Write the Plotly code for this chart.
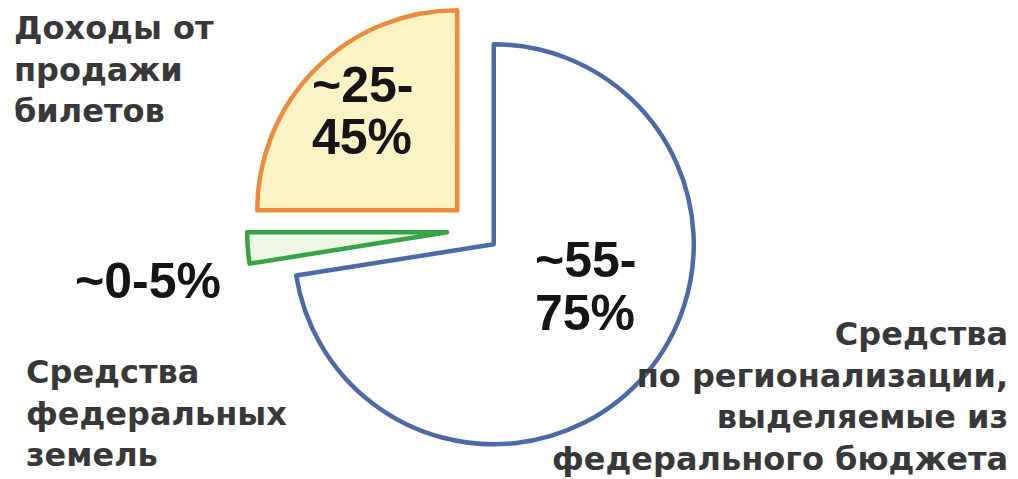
import plotly.graph_objects as go

# ---- data ----
categories = [
    "Средства по регионализации, выделяемые из федерального бюджета",
    "Средства федеральных земель",
    "Доходы от продажи билетов",
]
shares = [72.5, 2.5, 25.0]  # approximate slice sizes, %
share_labels = ["~55-<br>75%", "~0-5%", "~25-<br>45%"]
category_lines = [
    ["Средства", "по регионализации,", "выделяемые из", "федерального бюджета"],
    ["Средства", "федеральных", "земель"],
    ["Доходы от", "продажи", "билетов"],
]

# ---- style ----
W, H = 1018, 479
line_colors = ["#4d69a9", "#35a447", "#ee8a3c"]
fill_colors = ["#ffffff", "#eef6e4", "#fbf3c4"]
pulls = [0.11, 0.15, 0.14]

fig = go.Figure(
    go.Pie(
        labels=categories,
        values=shares,
        sort=False,
        direction="clockwise",
        rotation=0,
        pull=pulls,
        textinfo="none",
        hoverinfo="label+percent",
        marker=dict(colors=fill_colors, line=dict(color=line_colors, width=4.5)),
        domain=dict(x=[0.2186, 0.7186], y=[0.0397, 1.0]),
        showlegend=False,
    )
)

def px(x, y):
    return x / W, 1 - y / H

annotations = []
# percentage labels (bold), one annotation per text line for tighter spacing
pct_pos = [(585, 286), (148, 281), (362, 111)]
pct_gap = 53
for txt, (x, y) in zip(share_labels, pct_pos):
    parts = txt.split("<br>")
    y0 = y - pct_gap * (len(parts) - 1) / 2
    for i, part in enumerate(parts):
        ax, ay = px(x, y0 + i * pct_gap)
        annotations.append(dict(
            text=f"<b>{part}</b>", x=ax, y=ay, xref="paper", yref="paper",
            xanchor="center", yanchor="middle", align="center", showarrow=False,
            font=dict(family="Liberation Sans, Arial, sans-serif", size=50, color="#151515"),
        ))

# category labels
cat_pos = [(1010, 313, "right"), (24, 351, "left"), (12, 7, "left")]
for lines, (x, y, al) in zip(category_lines, cat_pos):
    ax, ay = px(x, y)
    annotations.append(dict(
        text="<b>" + "<br>".join(lines) + "</b>", x=ax, y=ay, xref="paper", yref="paper",
        xanchor=al, yanchor="top", align=al, showarrow=False,
        font=dict(family="DejaVu Sans, Verdana, sans-serif", size=32, color="#383838"),
    ))

fig.update_layout(
    width=W, height=H,
    margin=dict(l=0, r=0, t=0, b=0),
    paper_bgcolor="white", plot_bgcolor="white",
    annotations=annotations,
)

fig.write_html(
    "out.html",
    config={"displayModeBar": False},
    post_script="document.body.style.margin='0';",
)
